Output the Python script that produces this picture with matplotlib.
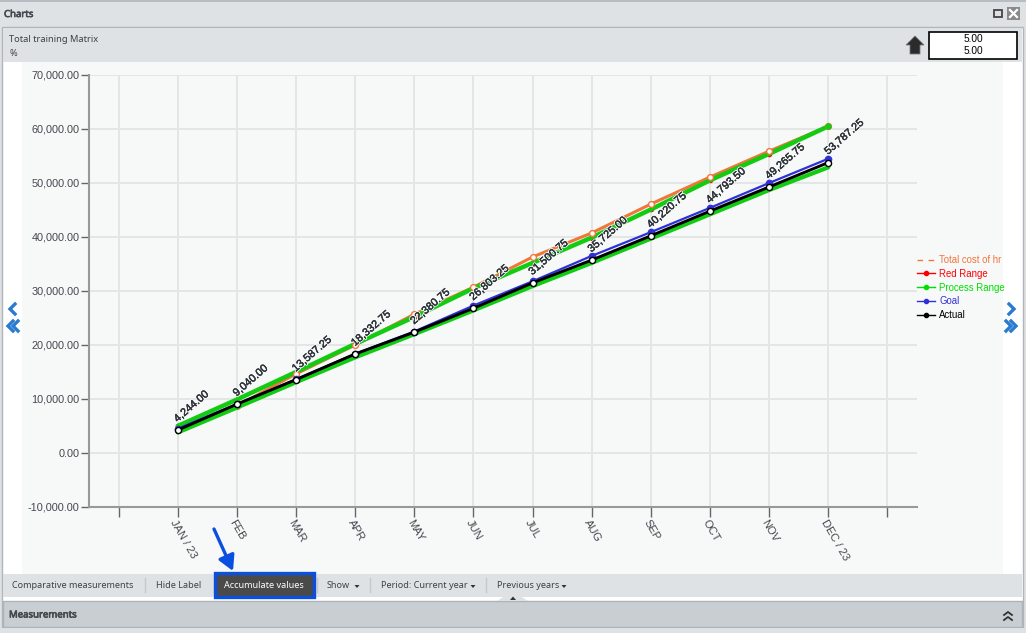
import matplotlib

matplotlib.use("Agg")
import matplotlib.patheffects as pe
import matplotlib.pyplot as plt
import numpy as np
from matplotlib.lines import Line2D
from matplotlib.patches import Polygon, Rectangle
from matplotlib.ticker import FuncFormatter
from matplotlib.transforms import ScaledTranslation

plt.rcParams["font.family"] = ["Liberation Sans", "DejaVu Sans"]

months = ["JAN / 23", "FEB", "MAR", "APR", "MAY", "JUN", "JUL", "AUG", "SEP", "OCT", "NOV", "DEC / 23"]
actual = [4244.00, 9040.00, 13587.25, 18332.75, 22380.75, 26803.25, 31500.75, 35725.00, 40220.75, 44793.50, 49265.75, 53787.25]
goal = [4500, 9050, 13650, 18350, 22500, 27300, 31800, 36500, 40900, 45400, 50000, 54500]
total_cost = [4300, 8700, 14650, 20000, 25700, 30700, 36300, 40750, 46100, 51100, 55900, 60500]
red_range = [5000, 9900, 15000, 20200, 25200, 30500, 35200, 39900, 45100, 50500, 55400, 60500]
process_upper = [5000, 9900, 15000, 20200, 25200, 30500, 35200, 39900, 45100, 50500, 55400, 60500]
process_lower = [3800, 8400, 13100, 17700, 22000, 26400, 30900, 35200, 39700, 44200, 48700, 52900]

C_ORANGE = "#f0763a"
C_RED = "#ff0000"
C_GREEN = "#11cc11"
C_BLUE = "#3030d8"
UI_FONT = ["Noto Sans", "DejaVu Sans"]
TEXT = "#3c4248"

fig = plt.figure(figsize=(10.26, 6.33), dpi=100, facecolor="white")

# window chrome, drawn in pixel coordinates
ui = fig.add_axes([0, 0, 1, 1], zorder=0)
ui.set_xlim(0, 1026)
ui.set_ylim(633, 0)
ui.axis("off")


def box(x0, y0, x1, y1, color, edge="none", lw=0.0, z=1):
    ui.add_patch(Rectangle((x0, y0), x1 - x0, y1 - y0, facecolor=color, edgecolor=edge, linewidth=lw, zorder=z))


box(0, 0, 1026, 633, "#dfe2e5")
box(0, 0, 1026, 1.5, "#b8bdc3", z=2)
box(2, 27, 1023, 633, "#ffffff", edge="#b0b5bb", lw=1.0)
box(3, 28, 1022, 62, "#dfe2e5", z=2)
box(22, 62, 1003, 574, "#f7f9f9", z=2)
box(3, 574, 1022, 597, "#dfe2e5", z=2)
box(3, 601, 1022, 627, "#c9ced2", edge="#aeb3b8", lw=1.0, z=2)
box(0, 628, 1026, 633, "#dfe2e5", z=2)
ui.add_patch(Polygon([(497, 601), (503, 597), (522, 597), (528, 601)], facecolor="#dfe2e5", zorder=3))
ui.add_patch(Polygon([(510, 600), (513, 596.5), (516, 600)], facecolor="#333333", zorder=4))

fake_bold = [pe.withStroke(linewidth=0.5, foreground="#444a50")]
ui.text(4, 14.5, "Charts", family=UI_FONT, fontsize=6.9, color="#444a50", va="center", path_effects=fake_bold, zorder=5)
ui.text(9, 39, "Total training Matrix", family=UI_FONT, fontsize=6.7, color=TEXT, va="center", zorder=5)
ui.text(9, 53, "%", family=UI_FONT, fontsize=6.7, color=TEXT, va="center", zorder=5)
ui.text(9, 615, "Measurements", family=UI_FONT, fontsize=6.9, color="#444a50", va="center", path_effects=fake_bold, zorder=5)

# restore / close icons
box(994, 10, 1002, 16.5, "none", edge="#444444", lw=1.3, z=5)
box(1007, 7, 1020, 20, "#8a8a8a", z=5)
ui.plot([1010, 1017], [10, 17], color="white", lw=1.6, zorder=6)
ui.plot([1017, 1010], [10, 17], color="white", lw=1.6, zorder=6)

# arrow and value box
ui.add_patch(Polygon([(906, 45), (915, 36), (924, 45), (920, 45), (920, 54), (910, 54), (910, 45)],
                     facecolor="#2b2b2b", edgecolor="#777777", linewidth=0.6, zorder=5))
box(929, 32, 1017, 59, "white", edge="black", lw=1.2, z=5)
ui.text(973, 39.5, "5.00", fontsize=7.3, color="black", ha="center", va="center", zorder=6)
ui.text(973, 51.5, "5.00", fontsize=7.3, color="black", ha="center", va="center", zorder=6)


def chevron(x, y, direction, color="#2a7bd0"):
    ui.plot([x - 3 * direction, x + 2 * direction, x - 3 * direction], [y - 5, y, y + 5],
            color=color, lw=2.4, solid_joinstyle="miter", zorder=5)


chevron(12, 309, -1)
chevron(10, 326, -1)
chevron(15, 326, -1)
chevron(1012, 309, 1)
chevron(1009, 326, 1)
chevron(1014, 326, 1)

# collapse icon in the bottom bar
for y in (612, 617):
    ui.plot([1004, 1008, 1012], [y + 3, y, y + 3], color="#333333", lw=1.3, zorder=5)

# toolbar
for x in (145, 214, 317, 370, 486):
    ui.plot([x, x], [578, 592], color="#c4c8cc", lw=1.0, zorder=5)
box(214.5, 572.5, 313.5, 596.5, "#4a4a4a", edge="#0a50e0", lw=2.4, z=5)
toolbar = [(12, "Comparative measurements", TEXT), (156, "Hide Label", TEXT), (224, "Accumulate values", "white"),
           (327, "Show", TEXT), (381, "Period: Current year", TEXT), (497, "Previous years", TEXT)]
for x, label, color in toolbar:
    ui.text(x, 586, label, family=UI_FONT, fontsize=6.55, color=color, va="center", zorder=6)
for x in (357, 473, 564):
    ui.add_patch(Polygon([(x - 2.5, 585), (x + 2.5, 585), (x, 588)], facecolor="#333333", zorder=6))
ui.annotate("", xy=(233, 571), xytext=(214, 529), zorder=7,
            arrowprops=dict(arrowstyle="-|>,head_width=0.5,head_length=0.9", color="#0a50e0", lw=2.4,
                            shrinkA=0, shrinkB=0))

# chart
ax = fig.add_axes([89 / 1026, 1 - 507 / 633, 828 / 1026, 432 / 633], zorder=2)
ax.patch.set_alpha(0)
x = np.arange(1, 13)
ax.set_xlim(-0.5, 13.5)
ax.set_ylim(-10000, 70000)
ax.set_xticks(np.arange(0, 14))
ax.set_xticklabels([""] + months + [""], rotation=-60, ha="left", va="center", rotation_mode="anchor",
                   fontsize=8.0, color="#42484e")
ax.set_yticks(np.arange(-10000, 70001, 10000))
ax.yaxis.set_major_formatter(FuncFormatter(lambda v, _: f"{v:,.2f}"))
ax.tick_params(axis="y", length=6, width=1, color="#666666", labelsize=7.8, labelcolor="#42484e", pad=1)
ax.tick_params(axis="x", length=7, width=1, color="#666666", pad=2.5)
shift = ScaledTranslation(-5 / 100, 0, fig.dpi_scale_trans)
for label in ax.get_xticklabels():
    label.set_transform(label.get_transform() + shift)
ax.grid(True, color="#e4e6e6", lw=1.4, zorder=0)
ax.set_axisbelow(True)
for side in ("top", "right"):
    ax.spines[side].set_visible(False)
for side in ("left", "bottom"):
    ax.spines[side].set_color("#999999")
    ax.spines[side].set_linewidth(1.5)

ax.plot(x, red_range, color=C_RED, lw=1.2, marker="o", ms=3, zorder=2)
# the orange line runs under the green band, its markers stay on top
ax.plot(x, total_cost, color=C_ORANGE, lw=2.2, zorder=2.5)
ax.plot(x, process_upper, color=C_GREEN, lw=3.2, solid_capstyle="round", zorder=3)
ax.plot(x, total_cost, ls="none", marker="o", ms=4.2, mfc="white", mec=C_ORANGE, mew=1.0, zorder=3.5)
ax.plot(x, process_upper, ls="none", marker="o", ms=3.6, color=C_GREEN, markevery=[11], zorder=3.6)
ax.plot(x, process_lower, color=C_GREEN, lw=3.0, solid_capstyle="round", zorder=4)
ax.plot(x, goal, color=C_BLUE, lw=1.6, marker="o", ms=4.5, zorder=5)
ax.plot(x, actual, color="black", lw=2.1, marker="o", ms=4.4, mfc="white", mec="black", mew=1.0, zorder=6)

label_fx = [pe.withStroke(linewidth=1.6, foreground="#f7f9f9"), pe.withStroke(linewidth=0.25, foreground="#30363c")]
for xi, value in zip(x, actual):
    ax.annotate(f"{value:,.2f}", (xi, value), xytext=(1, 6), textcoords="offset pixels", rotation=41,
                rotation_mode="anchor", ha="left", va="bottom", fontsize=7.8, color="#30363c",
                path_effects=label_fx, zorder=8, annotation_clip=False)

handles = [
    Line2D([], [], color=C_ORANGE, lw=1.0, dashes=(4, 4)),
    Line2D([], [], color=C_RED, lw=1.0, marker="o", ms=3),
    Line2D([], [], color="#00e000", lw=1.0, marker="o", ms=3),
    Line2D([], [], color=C_BLUE, lw=1.0, marker="o", ms=3),
    Line2D([], [], color="black", lw=1.0, marker="o", ms=3),
]
labels = ["Total cost of hr", "Red Range", "Process Range", "Goal", "Actual"]
legend = ax.legend(handles, labels, loc="upper left", bbox_to_anchor=(917 / 1026, 1 - 255 / 633),
                   bbox_transform=fig.transFigure, frameon=False, fontsize=6.9, handlelength=1.9, handletextpad=0.4,
                   labelspacing=0.40, borderaxespad=0, borderpad=0, labelcolor="linecolor")
legend.get_texts()[0].set_color(C_ORANGE)

fig.savefig("out.png", dpi=100)
